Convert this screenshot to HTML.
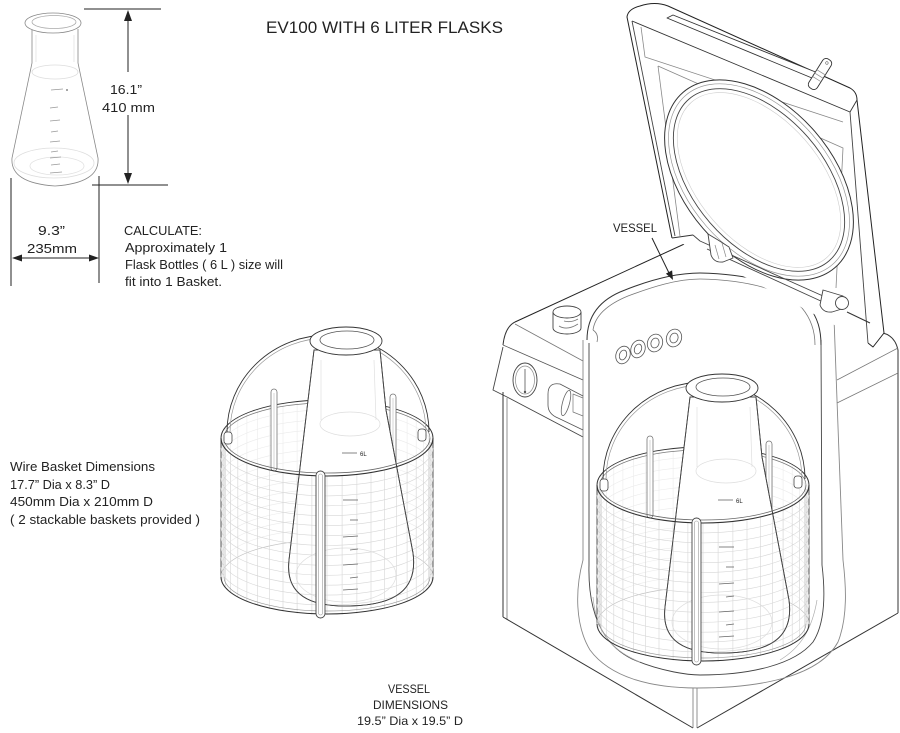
<!DOCTYPE html>
<html><head><meta charset="utf-8"><style>
html,body{margin:0;padding:0;background:#fff;}
svg{display:block;}
text{font-family:"Liberation Sans",Arial,sans-serif;fill:#222;}
</style></head><body>
<svg width="900" height="733" viewBox="0 0 900 733" xmlns="http://www.w3.org/2000/svg">
<rect width="900" height="733" fill="#fff"/>

<!-- ===== small flask top-left ===== -->
<g fill="none" stroke-width="0.8">
 <path d="M32,29 L32,63 L12,158 Q10,183 55,186 Q100,183 98,158 L78,63 L78,29" stroke="#888"/>
 <ellipse cx="53" cy="23" rx="28" ry="10" stroke="#888" fill="#fff"/>
 <ellipse cx="54" cy="22" rx="22" ry="6.5" stroke="#aaa"/>
 <ellipse cx="55" cy="72" rx="23" ry="7" stroke="#ddd"/>
 <ellipse cx="54" cy="163" rx="40" ry="15" stroke="#ddd"/>
 <ellipse cx="57" cy="166" rx="27" ry="9" stroke="#e2e2e2"/>
 <line x1="36" y1="35" x2="36" y2="62" stroke="#e2e2e2"/>
 <line x1="74" y1="35" x2="74" y2="62" stroke="#e2e2e2"/>
 <g stroke="#999">
  <line x1="51" y1="90" x2="63" y2="89"/>
  <line x1="50" y1="108" x2="58" y2="107"/>
  <line x1="50" y1="121" x2="60" y2="120"/>
  <line x1="51" y1="132" x2="58" y2="131"/>
  <line x1="50" y1="142" x2="60" y2="141"/>
  <line x1="51" y1="152" x2="58" y2="151"/>
  <line x1="50" y1="158" x2="61" y2="157"/>
  <line x1="51" y1="165" x2="60" y2="164"/>
  <line x1="50" y1="173" x2="62" y2="172"/>
 </g>
 <circle cx="67" cy="90" r="1" fill="#888" stroke="none"/>
</g>
<!-- dimensions -->
<g stroke="#222" stroke-width="1" fill="none">
 <line x1="84" y1="9" x2="161" y2="9"/>
 <line x1="128" y1="18" x2="128" y2="72"/>
 <line x1="128" y1="115" x2="128" y2="176"/>
 <line x1="92" y1="185" x2="168" y2="185"/>
 <line x1="11" y1="178" x2="11" y2="286"/>
 <line x1="99" y1="176" x2="99" y2="283"/>
 <line x1="18" y1="258" x2="93" y2="258"/>
</g>
<g fill="#222">
 <polygon points="128,10 124,21 132,21"/>
 <polygon points="128,184 124,173 132,173"/>
 <polygon points="12,258 22,254.5 22,261.5"/>
 <polygon points="99,258 89,254.5 89,261.5"/>
</g>
<g font-size="13">
 <text x="126" y="94" text-anchor="middle" textLength="32" lengthAdjust="spacingAndGlyphs">16.1”</text>
 <text x="128.5" y="112" text-anchor="middle" textLength="53" lengthAdjust="spacingAndGlyphs">410 mm</text>
 <text x="51.5" y="235" text-anchor="middle" textLength="27" lengthAdjust="spacingAndGlyphs">9.3”</text>
 <text x="52" y="253" text-anchor="middle" textLength="50" lengthAdjust="spacingAndGlyphs">235mm</text>
 <text x="124" y="235" textLength="78" lengthAdjust="spacingAndGlyphs">CALCULATE:</text>
 <text x="125" y="252" textLength="102" lengthAdjust="spacingAndGlyphs">Approximately  1</text>
 <text x="125" y="269" textLength="158" lengthAdjust="spacingAndGlyphs">Flask Bottles ( 6 L ) size will</text>
 <text x="125" y="286" textLength="97" lengthAdjust="spacingAndGlyphs">fit into 1 Basket.</text>
 <text x="10" y="471" textLength="145" lengthAdjust="spacingAndGlyphs">Wire Basket Dimensions</text>
 <text x="10" y="489" textLength="100" lengthAdjust="spacingAndGlyphs">17.7” Dia x 8.3” D</text>
 <text x="10" y="506" textLength="143" lengthAdjust="spacingAndGlyphs">450mm Dia x 210mm D</text>
 <text x="10" y="524" textLength="190" lengthAdjust="spacingAndGlyphs">( 2 stackable baskets provided )</text>
</g>
<text x="266" y="33" font-size="16.5" textLength="237" lengthAdjust="spacingAndGlyphs">EV100 WITH 6 LITER FLASKS</text>

<!-- ===== machine body ===== -->
<g fill="none" stroke-linejoin="round">
 <path d="M515,322 L693,240" stroke="#222" stroke-width="1"/>
 <path d="M515,322 Q505,327 503,345" stroke="#333"/>
 <path d="M515,324 L583,361" stroke="#777" stroke-width="0.8"/>
 <path d="M503,345 L583,380" stroke="#555" stroke-width="0.8"/>
 <path d="M503,347 L493,390 L507,397 L583,437" stroke="#444" stroke-width="0.9"/>
 <path d="M503,392 L503,617" stroke="#333"/>
 <path d="M507,398 L507,619" stroke="#777" stroke-width="0.8"/>
 <path d="M503,617 L693,728" stroke="#333"/>
 <path d="M697,728 L898,613" stroke="#333"/>
 <path d="M693,688 L693,728 M697,688 L697,728" stroke="#777" stroke-width="0.8"/>
 <path d="M898,350 L898,613" stroke="#333"/>
 <path d="M847,312 L870,323" stroke="#333"/>
 <path d="M883,333 Q895,336 898,350" stroke="#333"/>
 <path d="M837,380 L898,348 M837,403 L898,373" stroke="#777" stroke-width="0.8"/>
 <!-- cutaway outer (grey) -->
 <path d="M583,340 L583,560 C575,590 575,625 590,650 C610,677 650,688 697,688 C765,688 820,675 838,642 C848,617 846,585 843,560 L837,400 L834,318" stroke="#888" stroke-width="0.9"/>
 <!-- vessel inner wall -->
 <path d="M589,343 L589,565 C588,605 598,642 632,659 C662,672 690,675 700,675 C752,675 795,664 813,642 C826,622 825,590 822,565 L821,340" stroke="#444" stroke-width="0.9"/>
 <path d="M593,597 C596,630 610,650 640,662" stroke="#aaa" stroke-width="0.7"/>
 <path d="M817,600 C812,630 800,648 780,660" stroke="#aaa" stroke-width="0.7"/>
 <!-- vessel rim -->
 <path d="M587,340 C587,318 598,300 625,290 C650,280 675,273 700,273 C750,274 790,285 808,305 C818,318 821,330 821,345" stroke="#333"/>
 <path d="M593,330 C595,316 606,305 628,296 C652,287 677,279 700,279 C748,280 785,290 802,308 C812,320 815,333 815,345" stroke="#777" stroke-width="0.8"/>
 <path d="M593,330 Q599,334 597,342" stroke="#777" stroke-width="0.8"/>
 <!-- knob -->
 <path d="M553,312 L553,328 A14,6 0 0 0 581,328 L581,312" fill="#fff" stroke="#444" stroke-width="0.9"/>
 <ellipse cx="567" cy="312" rx="14" ry="6" fill="#fff" stroke="#444" stroke-width="0.9"/>
 <path d="M559,326 Q567,331 578,324 M564,321 Q571,323 578,319" stroke="#777" stroke-width="0.8"/>
 <!-- buttons -->
 <g stroke="#555" stroke-width="0.8" fill="#fff">
  <ellipse cx="623" cy="355" rx="7" ry="9" transform="rotate(20 623 355)"/>
  <ellipse cx="623" cy="355" rx="3.5" ry="5" transform="rotate(20 623 355)"/>
  <ellipse cx="638" cy="349" rx="7" ry="9" transform="rotate(20 638 349)"/>
  <ellipse cx="638" cy="349" rx="3.5" ry="5" transform="rotate(20 638 349)"/>
  <ellipse cx="655" cy="343" rx="7.5" ry="9" transform="rotate(20 655 343)"/>
  <ellipse cx="655" cy="343" rx="4" ry="5" transform="rotate(20 655 343)"/>
  <ellipse cx="674" cy="338" rx="7.5" ry="9" transform="rotate(20 674 338)"/>
  <ellipse cx="674" cy="338" rx="4" ry="5" transform="rotate(20 674 338)"/>
 </g>
 <!-- gauge -->
 <ellipse cx="525" cy="380" rx="12" ry="17" stroke="#444" stroke-width="0.9"/>
 <ellipse cx="525" cy="380" rx="9.5" ry="14" stroke="#888" stroke-width="0.7"/>
 <path d="M525,369 L525,391" stroke="#555" stroke-width="0.8"/>
 <circle cx="525" cy="392" r="1.2" fill="#555" stroke="none"/>
 <!-- display recess -->
 <path d="M583,396 L560,384 Q548,382 548,394 L548,405 Q548,414 558,418 L583,430" stroke="#555" stroke-width="0.8"/>
 <ellipse cx="566" cy="403" rx="3.5" ry="13" transform="rotate(15 566 403)" stroke="#666" stroke-width="0.8"/>
 <path d="M583,398 L573,394 L573,412 L583,416" stroke="#777" stroke-width="0.7"/>
</g>

<!-- ===== lid ===== -->
<g fill="none" stroke-linejoin="round">
 <path d="M672,238 L627,17 Q628,9 640,6 Q655,1 668,6 L850,88 Q857,92 857,100 L884,333 L873,347 L868,343" fill="#fff" stroke="#222" stroke-width="1"/>
 <path d="M632,21 L850,112 L857,100" stroke="#333" stroke-width="0.9"/>
 <path d="M850,112 L868,343" stroke="#444" stroke-width="0.9"/>
 <path d="M632,21 L675,236" stroke="#444" stroke-width="0.9"/>
 <path d="M672,238 L693,235" stroke="#333"/>
 <path d="M641,27 L645,57 L843,122" stroke="#888" stroke-width="0.8"/>
 <path d="M658,66 L843,148 L836,288" stroke="#888" stroke-width="0.8"/>
 <path d="M658,66 L680,236" stroke="#888" stroke-width="0.8"/>
 <!-- slot -->
 <path d="M667,18 L673,15 L818,73 L812,78 Z" fill="#fff" stroke="#333" stroke-width="0.9"/>
 <!-- gasket -->
 <g transform="translate(759 180) rotate(49)">
  <ellipse rx="116" ry="74" fill="#fff" stroke="#333" stroke-width="1"/>
  <ellipse rx="112" ry="70" stroke="#999" stroke-width="0.7"/>
  <ellipse rx="107" ry="65" stroke="#444" stroke-width="0.9"/>
  <ellipse rx="103" ry="61" stroke="#ccc" stroke-width="0.6"/>
 </g>
 <!-- hinge bar -->
 <path d="M693,235 L700,241 L823,296 M707,249 L823,302" stroke="#444" stroke-width="0.9"/>
 <path d="M847,312 L870,323" stroke="#333"/>
 <!-- hinges -->
 <path d="M708,234 L711,255 Q714,263 723,262 L733,258 L729,247 L718,240 Z" fill="#fff" stroke="#444" stroke-width="0.9"/>
 <path d="M715,245 L719,259 M722,243 L726,257" stroke="#888" stroke-width="0.7"/>
 <path d="M823,290 L820,305 Q823,313 832,312 L845,308 L843,296 Z" fill="#fff" stroke="#444" stroke-width="0.9"/>
 <circle cx="842" cy="303" r="6.5" fill="#fff" stroke="#444" stroke-width="0.9"/>
 <!-- rod -->
 <g transform="translate(820 74) rotate(-58)">
  <rect x="-17" y="-5" width="34" height="10" rx="4" fill="#fff" stroke="#333" stroke-width="0.9"/>
  <path d="M-6,-5 L-6,5 M-2,-5 L-2,5 M2,-5 L2,5" stroke="#888" stroke-width="0.7"/>
  <circle cx="13" cy="0" r="1.3" stroke="#666" stroke-width="0.6"/>
 </g>
</g>

<!-- ===== basket (template at middle position) ===== -->
<g id="bk" fill="none">
 <g id="meshback" stroke-width="0.6"></g>
 <line x1="221" y1="438" x2="221" y2="577" stroke="#444" stroke-width="0.9"/>
 <line x1="433" y1="438" x2="433" y2="577" stroke="#444" stroke-width="0.9"/>
 <line x1="224" y1="442" x2="224" y2="577" stroke="#aaa" stroke-width="0.6"/>
 <line x1="430" y1="442" x2="430" y2="577" stroke="#aaa" stroke-width="0.6"/>
 <path d="M221,577 A106,37 0 0 1 433,577" stroke="#c4c4c4" stroke-width="0.7"/>
 <path d="M221,438 A106,38 0 0 1 433,438" stroke="#333" stroke-width="0.9"/>
 <path d="M224,438 A103,35 0 0 1 430,438" stroke="#777" stroke-width="0.7"/>
 <rect x="271" y="389" width="6" height="82" rx="3" stroke="#777" stroke-width="0.8" fill="#fff"/>
 <line x1="274" y1="393" x2="274" y2="470" stroke="#bbb" stroke-width="0.6"/>
 <rect x="390" y="394" width="6" height="78" rx="3" stroke="#777" stroke-width="0.8" fill="#fff"/>
 <line x1="393" y1="398" x2="393" y2="471" stroke="#bbb" stroke-width="0.6"/>
 <path d="M227,432 A101,97 0 0 1 429,432" stroke="#333" stroke-width="0.9"/>
 <path d="M230,432 A98,94 0 0 1 426,432" stroke="#999" stroke-width="0.7"/>
 <!-- flask -->
 <path d="M314,350 L289,560 C285,595 310,607 350,606 C395,605 418,590 413,553 L386,410 L380,350 Z" fill="#fff" stroke="#444" stroke-width="0.9"/>
 <ellipse cx="350" cy="424" rx="30" ry="12" stroke="#ddd" stroke-width="0.7"/>
 <ellipse cx="346" cy="575" rx="50" ry="27" stroke="#ddd" stroke-width="0.7"/>
 <line x1="321" y1="360" x2="321" y2="420" stroke="#e0e0e0" stroke-width="0.7"/>
 <line x1="374" y1="360" x2="376" y2="420" stroke="#e0e0e0" stroke-width="0.7"/>
 <g id="meshfront" stroke-width="0.6"></g>
 <g stroke="#666" stroke-width="0.8">
  <line x1="342" y1="453" x2="357" y2="453"/>
  <line x1="343" y1="500" x2="358" y2="500"/>
  <line x1="350" y1="520" x2="358" y2="520"/>
  <line x1="343" y1="537" x2="358" y2="536"/>
  <line x1="350" y1="550" x2="358" y2="549"/>
  <line x1="343" y1="565" x2="358" y2="564"/>
  <line x1="350" y1="578" x2="358" y2="577"/>
  <line x1="343" y1="590" x2="358" y2="589"/>
 </g>
 <path d="M314,350 L289,560 C285,595 310,607 350,606 C395,605 418,590 413,553 L386,410 L380,350" stroke="#444" stroke-width="0.9"/>
 <ellipse cx="346" cy="341" rx="36" ry="14" fill="#fff" stroke="#333" stroke-width="0.9"/>
 <ellipse cx="347" cy="340" rx="27" ry="9" stroke="#555" stroke-width="0.8"/>
 <!-- front rim and bottom -->
 <path d="M221,438 A106,38 0 0 0 433,438" stroke="#333" stroke-width="1.1"/>
 <path d="M224,438 A103,35 0 0 0 430,438" stroke="#666" stroke-width="0.8"/>
 <path d="M221,577 A106,37 0 0 0 433,577" stroke="#333" stroke-width="1"/>
 <path d="M224,577 A103,34 0 0 0 430,577" stroke="#999" stroke-width="0.7"/>
 <!-- hooks -->
 <rect x="224" y="432" width="8" height="12" rx="3" fill="#fff" stroke="#444" stroke-width="0.8"/>
 <rect x="418" y="429" width="8" height="12" rx="3" fill="#fff" stroke="#444" stroke-width="0.8"/>
 <!-- front clip -->
 <rect x="316" y="471" width="9" height="147" rx="4.5" fill="#fff" stroke="#444" stroke-width="0.9"/>
 <rect x="318.5" y="474" width="4" height="141" rx="2" stroke="#999" stroke-width="0.6"/>
</g>
<use href="#bk" transform="translate(376 47)"/>
<text x="360" y="456" font-size="6">6L</text>
<text x="736" y="503" font-size="6">6L</text>

<!-- VESSEL label + arrow -->
<text x="613" y="232" font-size="12" textLength="44" lengthAdjust="spacingAndGlyphs">VESSEL</text>
<line x1="652" y1="238" x2="669" y2="273" stroke="#222" stroke-width="1"/>
<polygon points="673,280 672.1,270.4 665.9,273.6" fill="#222"/>

<!-- bottom label -->
<g font-size="12" text-anchor="middle">
 <text x="409" y="693" textLength="42" lengthAdjust="spacingAndGlyphs">VESSEL</text>
 <text x="410.5" y="709" textLength="75" lengthAdjust="spacingAndGlyphs">DIMENSIONS</text>
 <text x="410" y="725" textLength="106" lengthAdjust="spacingAndGlyphs">19.5” Dia x 19.5” D</text>
</g>
</svg>
<script>
(function(){
 var gb=document.getElementById('meshback'), gf=document.getElementById('meshfront');
 if(!gb||!gf) return;
 var sb='', sf='', cx=327, yT=438, yB=577, rx=106, ry=38, n=14, m=22;
 for (var i=1;i<n;i++){
   var y=(yT+(yB-yT)*i/n).toFixed(1);
   sf+='<path d="M'+(cx-rx)+','+y+' A'+rx+','+ry+' 0 0 0 '+(cx+rx)+','+y+'" stroke="#d6d6d6"/>';
   sb+='<path d="M'+(cx-rx)+','+y+' A'+rx+','+ry+' 0 0 1 '+(cx+rx)+','+y+'" stroke="#ebebeb"/>';
 }
 for (var k=1;k<m;k++){
   var t=Math.PI*k/m, x=(cx+rx*Math.cos(t)).toFixed(1), d=ry*Math.sin(t);
   sf+='<line x1="'+x+'" y1="'+(yT+d).toFixed(1)+'" x2="'+x+'" y2="'+(yB+d).toFixed(1)+'" stroke="#d6d6d6"/>';
   sb+='<line x1="'+x+'" y1="'+(yT-d).toFixed(1)+'" x2="'+x+'" y2="'+(yB-d).toFixed(1)+'" stroke="#ebebeb"/>';
 }
 gb.innerHTML=sb; gf.innerHTML=sf;
})();
</script>
</body></html>
